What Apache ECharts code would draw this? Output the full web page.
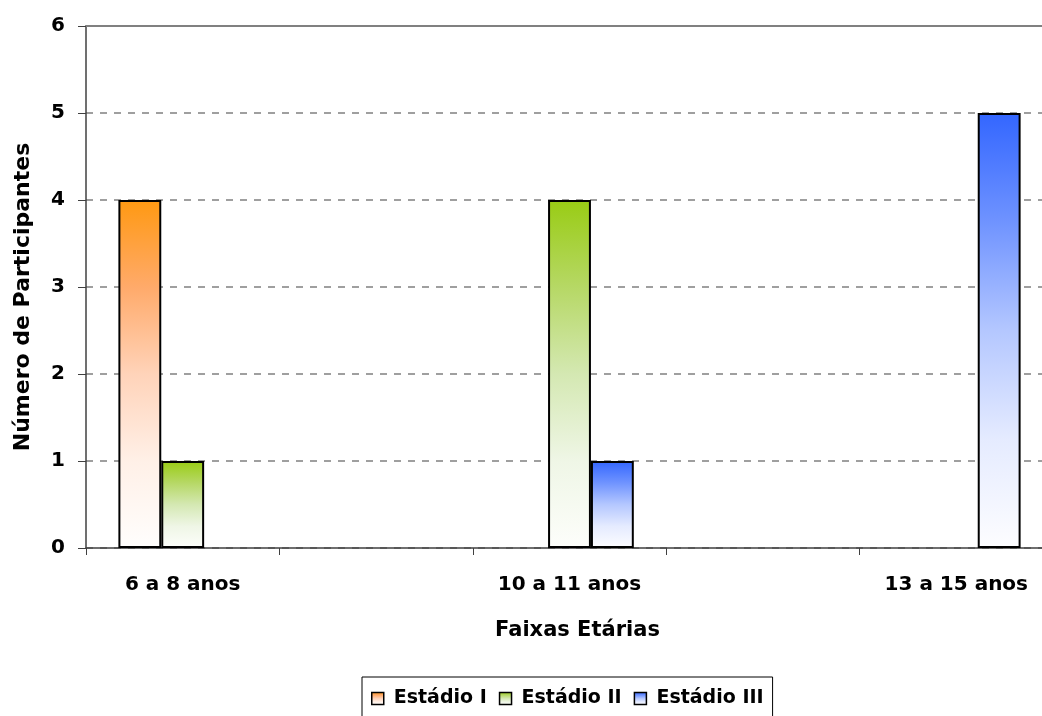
<!DOCTYPE html>
<html>
<head>
<meta charset="utf-8">
<script src="https://cdn.jsdelivr.net/npm/echarts@6/dist/echarts.min.js"></script>
<style>
html,body{margin:0;padding:0;background:#fff;width:1042px;height:716px;overflow:hidden;}
#c{width:1062px;height:716px;}
</style>
</head>
<body>
<div id="c"></div>
<script>
const categories = ['6 a 8 anos', '', '10 a 11 anos', '', '13 a 15 anos'];
const seriesNames = ['Estádio I', 'Estádio II', 'Estádio III'];
const estadioI = [4, 0, 0, 0, 0];
const estadioII = [1, 0, 4, 0, 0];
const estadioIII = [0, 0, 1, 0, 5];
const yTicks = [0, 1, 2, 3, 4, 5, 6];

const gradStops = [
  ['#ff9912', '#ffaa6a', '#ffd3b9', '#fff0e7', '#fffefd'],
  ['#99cc14', '#b6d865', '#d4e8b2', '#eff6e6', '#fdfefb'],
  ['#3366ff', '#6f93ff', '#b4c7ff', '#e5ebff', '#fdfdff']
];
const stopOffsets = [0, 0.25, 0.5, 0.75, 1];
const FONT = '"DejaVu Sans", "Liberation Sans", Arial, sans-serif';

function grad(cols) {
  return new echarts.graphic.LinearGradient(0, 0, 0, 1,
    cols.map((c, k) => ({ offset: stopOffsets[k], color: c })));
}

const chart = echarts.init(document.getElementById('c'), null, { renderer: 'canvas' });
const dataSets = [estadioI, estadioII, estadioIII];

chart.setOption({
  animation: false,
  backgroundColor: '#ffffff',
  textStyle: { fontFamily: FONT },
  grid: { left: 86, right: 9, top: 26, bottom: 168, containLabel: false },
  legend: {
    data: seriesNames,
    icon: 'rect',
    top: 677,
    left: 362,
    padding: [12, 9, 12, 9],
    borderColor: '#000000',
    borderWidth: 1,
    itemWidth: 12,
    itemHeight: 12,
    itemGap: 12,
    textStyle: { fontFamily: FONT, fontSize: 19, fontWeight: 'bold', color: '#000', padding: [0, 0, 0, 5] },
    itemStyle: { borderColor: '#000', borderWidth: 1.5 }
  },
  xAxis: [{
    type: 'category',
    data: categories,
    position: 'bottom',
    name: 'Faixas Etárias',
    nameLocation: 'middle',
    nameGap: 72,
    nameTextStyle: { fontFamily: FONT, fontSize: 21, fontWeight: 'bold', color: '#000', padding: [0, 0, 0, 16] },
    axisLine: { lineStyle: { color: '#404040', width: 1.5 } },
    axisTick: { show: true, alignWithLabel: false, length: 7, lineStyle: { color: '#404040' } },
    axisLabel: { interval: 0, margin: 27, fontFamily: FONT, fontSize: 20, fontWeight: 'bold', color: '#000' },
    splitLine: { show: false }
  }, {
    type: 'category',
    data: categories,
    position: 'top',
    axisLine: { show: true, lineStyle: { color: '#808080', width: 2 } },
    axisTick: { show: false },
    axisLabel: { show: false },
    splitLine: { show: false }
  }],
  yAxis: {
    type: 'value',
    min: 0,
    max: 6,
    interval: 1,
    name: 'Número de Participantes',
    nameLocation: 'middle',
    nameGap: 52,
    nameTextStyle: { fontFamily: FONT, fontSize: 22, fontWeight: 'bold', color: '#000', padding: [0, 20, 0, 0] },
    axisLine: { show: true, lineStyle: { color: '#404040', width: 1.5 } },
    axisTick: { show: true, length: 8, lineStyle: { color: '#404040' } },
    axisLabel: {
      margin: 21, fontFamily: FONT, fontSize: 20, fontWeight: 'bold', color: '#000',
      formatter: v => (yTicks.indexOf(v) >= 0 ? String(v) : '')
    },
    splitLine: { show: true, lineStyle: { color: '#808080', type: [7, 7], width: 1.5 } }
  },
  series: seriesNames.map((n, i) => ({
    name: n,
    type: 'bar',
    data: dataSets[i].map(v => (v === 0 ? null : v)),
    barGap: '0%',
    barCategoryGap: '33.5%',
    itemStyle: { color: grad(gradStops[i]), borderColor: '#000000', borderWidth: 2 },
    emphasis: { disabled: true }
  }))
});
</script>
</body>
</html>
